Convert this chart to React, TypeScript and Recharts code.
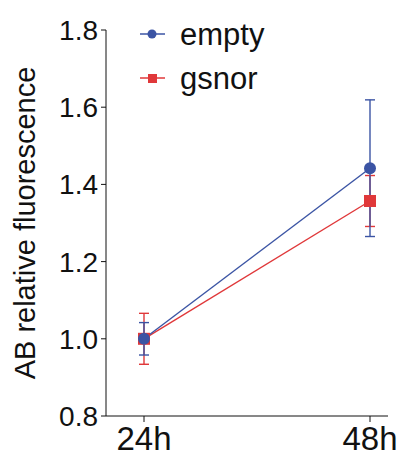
import { LineChart, Line, XAxis, YAxis, ErrorBar } from 'recharts';

const timepoints = ['24h', '48h'];
const emptyMean = [1.0, 1.442];
const emptyErr = [0.042, 0.177];
const gsnorMean = [1.0, 1.357];
const gsnorErr = [0.066, 0.066];
const yTicks = [0.8, 1.0, 1.2, 1.4, 1.6, 1.8];

const BLUE = '#3b54a4';
const RED = '#e0383a';
const FONT = '"Liberation Sans", Arial, Helvetica, sans-serif';

const data = timepoints.map((t, i) => ({
  time: t,
  empty: emptyMean[i],
  emptyErr: emptyErr[i],
  gsnor: gsnorMean[i],
  gsnorErr: gsnorErr[i],
}));

// square marker for gsnor
const SquareDot = (props: any) => {
  const { cx, cy, index } = props;
  return <rect key={`sq-${index}`} x={cx - 6} y={cy - 6} width={12} height={12} fill={RED} />;
};

const YLabel = () => (
  <text
    x={35}
    y={223}
    transform="rotate(-90, 35, 223)"
    textAnchor="middle"
    fontSize={29}
    fontFamily={FONT}
    fill="#111"
  >
    AB relative fluorescence
  </text>
);

const LegendBox = () => (
  <g fontFamily={FONT} fontSize={31} fill="#111">
    <line x1={140} y1={34} x2={165} y2={34} stroke={BLUE} strokeWidth={1.5} />
    <circle cx={152} cy={34} r={4.5} fill={BLUE} />
    <text x={180} y={34} dominantBaseline="central">empty</text>
    <line x1={140} y1={78} x2={165} y2={78} stroke={RED} strokeWidth={1.5} />
    <rect x={148} y={74} width={9} height={9} fill={RED} />
    <text x={180} y={78} dominantBaseline="central">gsnor</text>
  </g>
);

export default function App() {
  return (
    <div style={{ position: 'fixed', left: 0, top: 0, width: 400, height: 457, background: '#fff' }}>
      <LineChart width={400} height={457} data={data} margin={{ top: 30, right: 12, left: 0, bottom: 0 }}>
        <XAxis
          dataKey="time"
          padding={{ left: 38, right: 18 }}
          height={41}
          stroke="#111"
          tickSize={6}
          tickMargin={5}
          tick={{ fontSize: 33, fontFamily: FONT, fill: '#111' }}
        />
        <YAxis
          type="number"
          domain={[0.8, 1.8]}
          ticks={yTicks}
          width={106}
          stroke="#111"
          tickSize={5}
          tickMargin={3}
          tickFormatter={(v: number) => v.toFixed(1)}
          tick={{ fontSize: 28, fontFamily: FONT, fill: '#111' }}
        />
        <Line
          dataKey="gsnor"
          stroke={RED}
          strokeWidth={1.4}
          dot={SquareDot}
          activeDot={false}
          isAnimationActive={false}
        >
          <ErrorBar dataKey="gsnorErr" width={5} stroke={RED} strokeWidth={1.4} />
        </Line>
        <Line
          dataKey="empty"
          stroke={BLUE}
          strokeWidth={1.4}
          dot={{ r: 6, fill: BLUE, stroke: BLUE, strokeWidth: 0 }}
          activeDot={false}
          isAnimationActive={false}
        >
          <ErrorBar dataKey="emptyErr" width={5} stroke={BLUE} strokeWidth={1.4} />
        </Line>
        <YLabel />
        <LegendBox />
      </LineChart>
    </div>
  );
}
